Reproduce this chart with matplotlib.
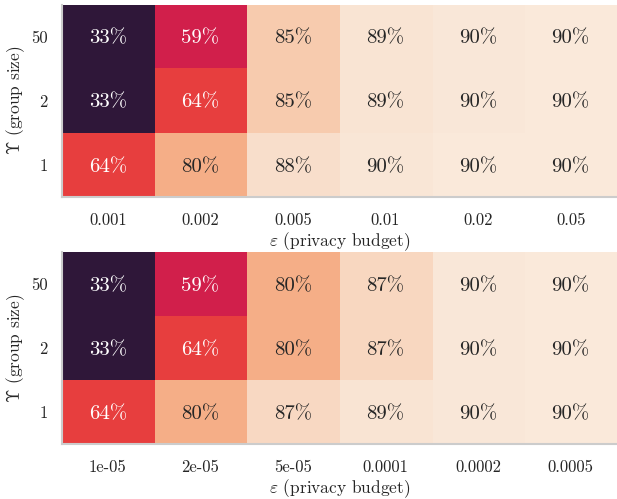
import matplotlib
matplotlib.use("Agg")
import matplotlib.pyplot as plt
import numpy as np
import seaborn as sns

group_sizes = ["50", "2", "1"]
eps_top = ["0.001", "0.002", "0.005", "0.01", "0.02", "0.05"]
eps_bottom = ["1e-05", "2e-05", "5e-05", "0.0001", "0.0002", "0.0005"]

top_values = [
    [33.2, 59.2, 85.0, 89.4, 89.9, 90.1],
    [33.2, 64.3, 85.0, 89.4, 89.8, 90.1],
    [64.3, 80.2, 88.4, 89.7, 90.0, 90.1],
]
bottom_values = [
    [33.2, 59.2, 80.1, 87.0, 89.9, 90.1],
    [33.2, 64.3, 80.1, 87.0, 89.8, 90.1],
    [64.3, 80.2, 87.2, 89.4, 89.9, 90.1],
]

plt.rcParams['font.family'] = 'serif'
plt.rcParams['font.serif'] = ['cmr10', 'DejaVu Serif']
plt.rcParams['mathtext.fontset'] = 'cm'
plt.rcParams['axes.formatter.use_mathtext'] = True

fig = plt.figure(figsize=(6.17, 4.99), dpi=100)
W, H = 617, 499
def pos(l, t, r, b):
    return [l / W, 1 - b / H, (r - l) / W, (b - t) / H]

ax1 = fig.add_axes(pos(61.5, 4.5, 617, 197))
ax2 = fig.add_axes(pos(61.5, 252, 617, 444))

cmap = sns.color_palette("rocket", as_cmap=True)

for ax, vals, xl in [(ax1, top_values, eps_top), (ax2, bottom_values, eps_bottom)]:
    arr = np.array(vals)
    ax.imshow(arr, cmap=cmap, vmin=25, vmax=90.5, aspect='auto',
              extent=(0, 6, 3, 0), interpolation='nearest')
    for i in range(arr.shape[0]):
        for j in range(arr.shape[1]):
            v = arr[i, j]
            color = 'white' if v < 70 else '#262626'
            ax.text(j + 0.5, i + 0.5, f"{round(v):d}%", ha='center', va='center_baseline',
                    fontsize=15, color=color)
    ax.set_xlim(0, 6)
    ax.set_ylim(3, 0)
    ax.set_xticks(np.arange(6) + 0.5)
    ax.set_xticklabels(xl, fontsize=12, color='#262626')
    ax.set_yticks(np.arange(3) + 0.5)
    ax.set_yticklabels(group_sizes, fontsize=12, color='#262626', va='center_baseline')
    ax.tick_params(length=0, pad=11, axis='x')
    ax.tick_params(length=0, pad=10, axis='y')
    for s in ['top', 'right']:
        ax.spines[s].set_visible(False)
    for s in ['left', 'bottom']:
        ax.spines[s].set_color('#cccccc')
        ax.spines[s].set_linewidth(1.5)
    ax.set_xlabel(r"$\varepsilon$ (privacy budget)", fontsize=12.5, color='#262626', labelpad=2)
    ax.set_ylabel(r"$\Upsilon$ (group size)", fontsize=12.5, color='#262626')
    ax.yaxis.set_label_coords(-0.062, 0.5)

fig.savefig("out.png", dpi=100)
